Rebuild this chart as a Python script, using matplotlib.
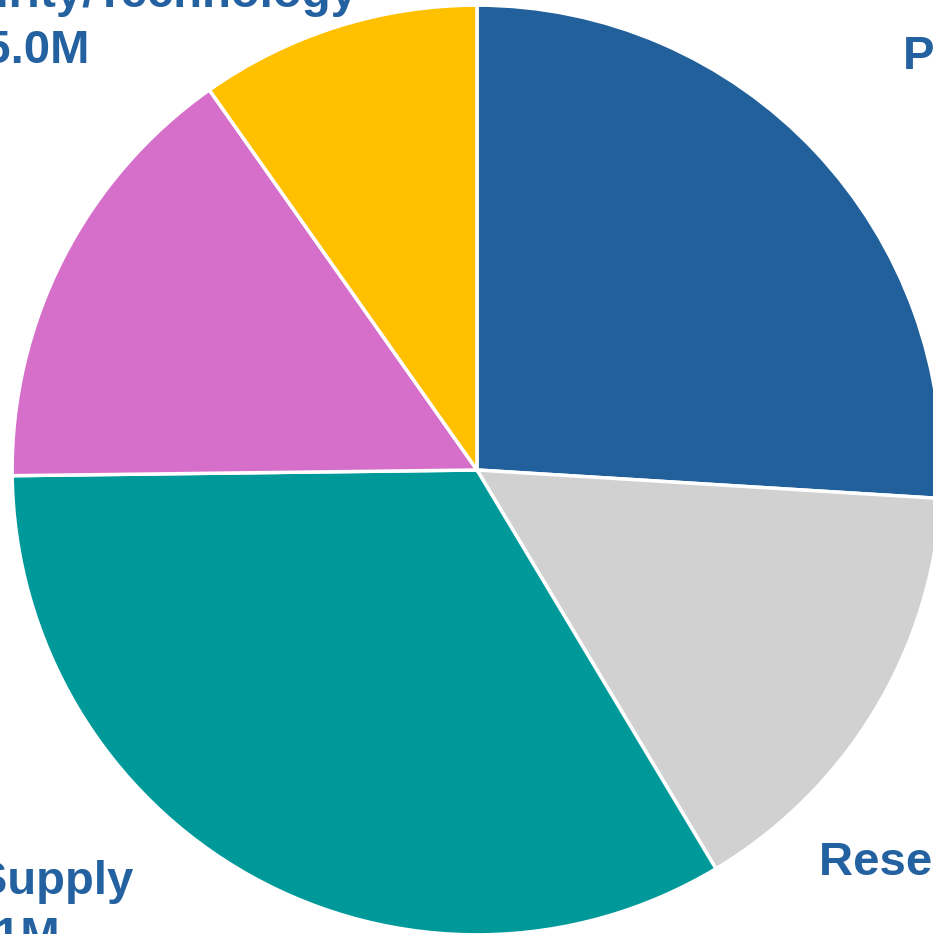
import matplotlib
matplotlib.use("Agg")
import matplotlib.pyplot as plt
import numpy as np

# budget split, $M
categories = ['Personnel', 'Research Costs', 'Office Supply', 'Facilities',
              'Physical Security/Technology']
amounts = [13.3, 7.9, 17.1, 7.9, 5.0]
colors = ['#22609B', '#D1D1D1', '#009999', '#D56FC9', '#FFC000']

# where the data labels sit (degrees, radius as multiple of pie radius)
label_angle = [35.46, -39.0, -138.43, 160.0, 135.38]
label_radius = [1.4318, 1.4466, 1.432, 1.45, 1.3745]

text_color = '#2361A0'

W, H = 933, 934
cx, cy, scale = 477, 470, 463.0

fig = plt.figure(figsize=(W / 100, H / 100), dpi=100)
ax = fig.add_axes([0, 0, 1, 1])

wedges, _ = ax.pie(amounts, colors=colors, startangle=90, counterclock=False,
                   radius=1.004,
                   wedgeprops=dict(edgecolor='white', linewidth=2.5))

for name, val, ang, r in zip(categories, amounts, label_angle, label_radius):
    a = np.deg2rad(ang)
    ax.text(r * np.cos(a), r * np.sin(a), f'{name}\n${val:.1f}M',
            ha='center', va='center', multialignment='center',
            fontsize=34, fontweight='bold', family='Liberation Sans',
            color=text_color, linespacing=1.37, clip_on=False)

ax.set_aspect('auto')
ax.set_xlim(-cx / scale, (W - cx) / scale)
ax.set_ylim(-(H - cy) / scale, cy / scale)
ax.axis('off')

fig.savefig('out.png', dpi=100)
